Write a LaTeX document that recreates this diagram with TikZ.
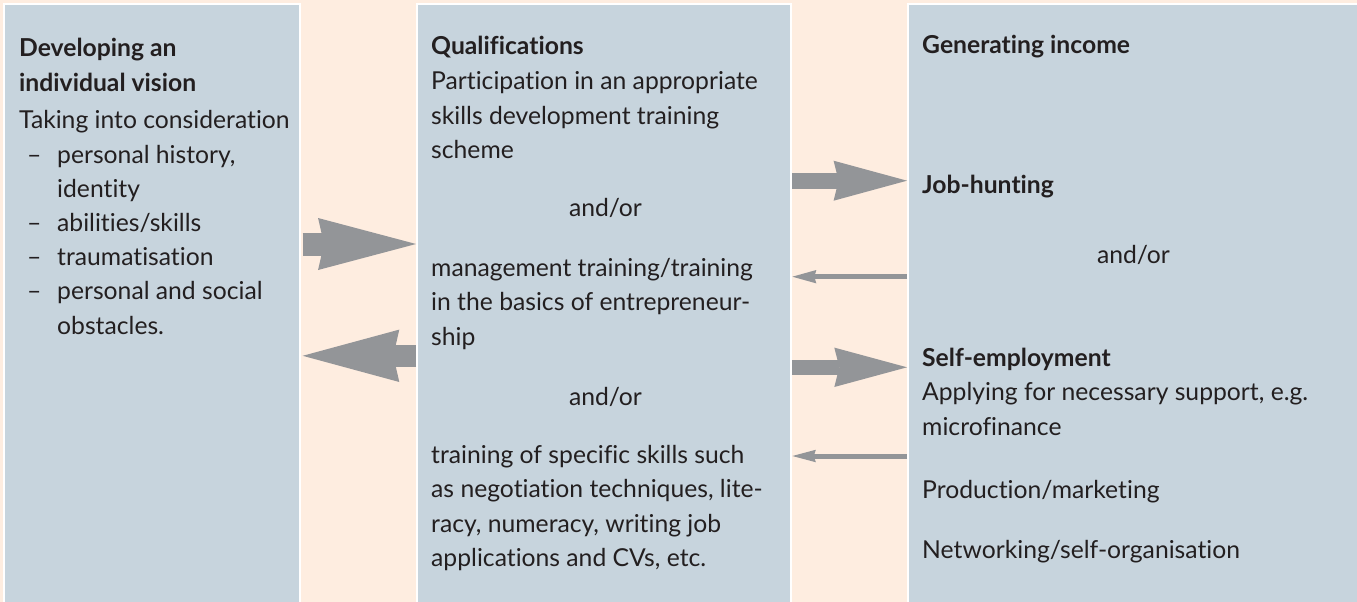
\documentclass[tikz,border=0pt]{standalone}
\usepackage{fontspec}
\setmainfont[Ligatures=NoCommon]{Lato}
\usetikzlibrary{arrows.meta}
\definecolor{peach}{HTML}{FEEDE0}
\definecolor{panelblue}{HTML}{C7D4DD}
\definecolor{arrowgray}{HTML}{939598}
\definecolor{ink}{HTML}{231F20}
\tikzset{
  panelbox/.style={draw=white, line width=2pt, fill=panelblue, inner sep=0pt},
  txt/.style={anchor=base west, inner sep=0pt, text=ink, font=\fontsize{24.7}{30}\selectfont},
  hd/.style={txt, font=\fontsize{24.7}{30}\selectfont\bfseries},
  ctr/.style={txt, anchor=base},
  fatarrow/.style={draw=arrowgray, line width=#1},
}
\newcommand{\dsh}{\makebox[30pt][l]{–}}
\begin{document}
\begin{tikzpicture}[x=1pt,y=-1pt]
\useasboundingbox (0,0) rectangle (1357,602);
\fill[peach] (0,0) rectangle (1357,602);
\begin{scope}
\clip (0,0) rectangle (1357,602);
\node[panelbox, minimum width=295.4pt, minimum height=616pt] (L) at (152,311.7) {};
\node[panelbox, minimum width=374.3pt, minimum height=616pt] (M) at (604.2,311.7) {};
\node[panelbox, minimum width=472pt, minimum height=616pt] (R) at (1144,311.7) {};
\end{scope}
% arrows
\draw[fatarrow=23pt, -{Stealth[length=98pt, width=52pt, inset=6pt, line width=0pt]}, shorten <=2pt] (L.east |- 0,244) -- (M.west |- 0,244);
\draw[fatarrow=21.7pt, -{Stealth[length=96.6pt, width=52.4pt, inset=6pt, line width=0pt]}, shorten >=2pt] (M.west |- 0,355.8) -- (L.east |- 0,355.8);
\draw[fatarrow=16pt, -{Stealth[length=73.4pt, width=40pt, inset=5pt, line width=0pt]}] (M.east |- 0,180.7) -- (R.west |- 0,180.7);
\draw[fatarrow=5pt, -{Stealth[length=24pt, width=13.4pt, inset=2pt, line width=0pt]}] (R.west |- 0,276.7) -- (M.east |- 0,276.7);
\draw[fatarrow=15pt, -{Stealth[length=72.7pt, width=39.4pt, inset=5pt, line width=0pt]}] (M.east |- 0,367.3) -- (R.west |- 0,367.3);
\draw[fatarrow=5pt, -{Stealth[length=23.5pt, width=12.5pt, inset=2pt, line width=0pt]}] (R.west |- 0,456) -- (M.east |- 0,456);
% left panel text
\node[hd] (l1) at (19,57) {Developing an};
\node[hd] (l2) at (19,92) {individual vision};
\node[txt] (l3) at (19,128) {Taking into consideration};
\node[txt] (l4) at (27,163) {\dsh personal history,};
\node[txt] (l5) at (57,197) {identity};
\node[txt] (l6) at (27,231) {\dsh abilities/skills};
\node[txt] (l7) at (27,265) {\dsh traumatisation};
\node[txt] (l8) at (27,299) {\dsh personal and social};
\node[txt] (l9) at (57,334) {obstacles.};
% middle panel text
\node[hd] (m1) at (431,55) {Qualifications};
\node[txt] (m2) at (431,89.5) {Participation in an appropriate};
\node[txt] (m3) at (431,124) {skills development training};
\node[txt] (m4) at (431,158.5) {scheme};
\node[ctr] (m5) at (605.5,216) {and/or};
\node[txt] (m6) at (431,276) {management training/training};
\node[txt] (m7) at (431,310.5) {in the basics of entrepreneur-};
\node[txt] (m8) at (431,345) {ship};
\node[ctr] (m9) at (605.5,405) {and/or};
\node[txt] (m10) at (431,463) {training of specific skills such};
\node[txt] (m11) at (431,497.5) {as negotiation techniques, lite-};
\node[txt] (m12) at (431,532) {racy, numeracy, writing job};
\node[txt] (m13) at (431,566.5) {applications and CVs, etc.};
% right panel text
\node[hd] (r1) at (922,54) {Generating income};
\node[hd] (r2) at (922,193) {Job-hunting};
\node[ctr] (r3) at (1133.5,263) {and/or};
\node[hd] (r4) at (922,366) {Self-employment};
\node[txt] (r5) at (922,400.5) {Applying for necessary support, e.g.};
\node[txt] (r6) at (922,435) {microfinance};
\node[txt] (r7) at (922,498) {Production/marketing};
\node[txt] (r8) at (922,558) {Networking/self-organisation};
\end{tikzpicture}
\end{document}
